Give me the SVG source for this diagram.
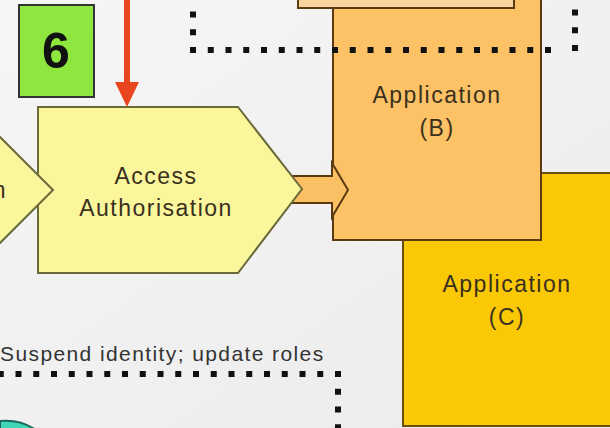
<svg xmlns="http://www.w3.org/2000/svg" width="610" height="428" viewBox="0 0 610 428">
  <style>
    .lbl { font-family: "Liberation Sans", Arial, sans-serif; font-size: 23px; fill: #3a3020; letter-spacing: 1.5px; text-anchor: middle; }
    .dots { fill: none; stroke: #111; stroke-width: 6; stroke-dasharray: 6 11.75; }
    .edge { stroke-width: 2; stroke-linejoin: miter; }
  </style>
  <defs>
    <linearGradient id="bg" x1="0" y1="0" x2="1" y2="1">
      <stop offset="0" stop-color="#f6f6f6"/>
      <stop offset="1" stop-color="#ebebeb"/>
    </linearGradient>
  </defs>
  <rect x="0" y="0" width="610" height="428" fill="url(#bg)"/>

  <g id="app-c">
    <rect class="edge" x="403" y="173" width="220" height="253" fill="#fbc805" stroke="#6a5010"/>
    <text class="lbl" x="507" y="292">Application</text>
    <text class="lbl" x="507" y="325">(C)</text>
  </g>

  <g id="app-b">
    <rect class="edge" x="333" y="-10" width="208" height="250" fill="#fdc265" stroke="#5a3a10"/>
    <text class="lbl" x="437" y="103">Application</text>
    <text class="lbl" x="437" y="136">(B)</text>
  </g>

  <g id="top-box">
    <rect class="edge" x="298" y="-10" width="216" height="18" fill="#fbd39e" stroke="#5a3a10"/>
  </g>

  <g id="connectors">
    <path class="dots" d="M193,53 L193,0"/>
    <path class="dots" d="M190,50 L552,50"/>
    <path class="dots" d="M575,51 L575,0"/>
    <path class="dots" d="M341,374 L0,374"/>
    <path class="dots" d="M338,371 L338,428"/>
    <polygon class="edge" points="290,176 332,176 332,163 348,190 332,217 332,203 290,203" fill="#fbc064" stroke="#5a3a10"/>
    <line x1="127" y1="0" x2="127" y2="86" stroke="#e8461e" stroke-width="6"/>
    <polygon points="115,82 139,82 127,107" fill="#e8461e"/>
  </g>

  <g id="access-authorisation">
    <polygon class="edge" points="38,107 238,107 302,189 238,273 38,273" fill="#faf69c" stroke="#6b6a3a"/>
    <text class="lbl" x="156" y="184">Access</text>
    <text class="lbl" x="156" y="216">Authorisation</text>
  </g>

  <g id="prev-step">
    <polygon class="edge" points="-100,100 -37,100 53,190 -37,280 -100,280" fill="#faf69c" stroke="#6b6a3a"/>
    <text class="lbl" x="0" y="198">n</text>
  </g>

  <g id="step-6">
    <rect x="19" y="5" width="75" height="92" fill="#8fe63e" stroke="#333" stroke-width="2"/>
    <text x="56" y="68" font-family="Liberation Sans, Arial, sans-serif" font-size="50" font-weight="bold" fill="#111" text-anchor="middle">6</text>
  </g>

  <g id="suspend-label">
    <text x="0" y="361" font-family="Liberation Sans, Arial, sans-serif" font-size="21" letter-spacing="1.4" fill="#333">Suspend identity; update roles</text>
  </g>

  <g id="teal-shape">
    <path d="M0,421 Q20,419 36,430 L0,430 Z" fill="#3fd6b6" stroke="#1a6a5a" stroke-width="2"/>
  </g>
</svg>
